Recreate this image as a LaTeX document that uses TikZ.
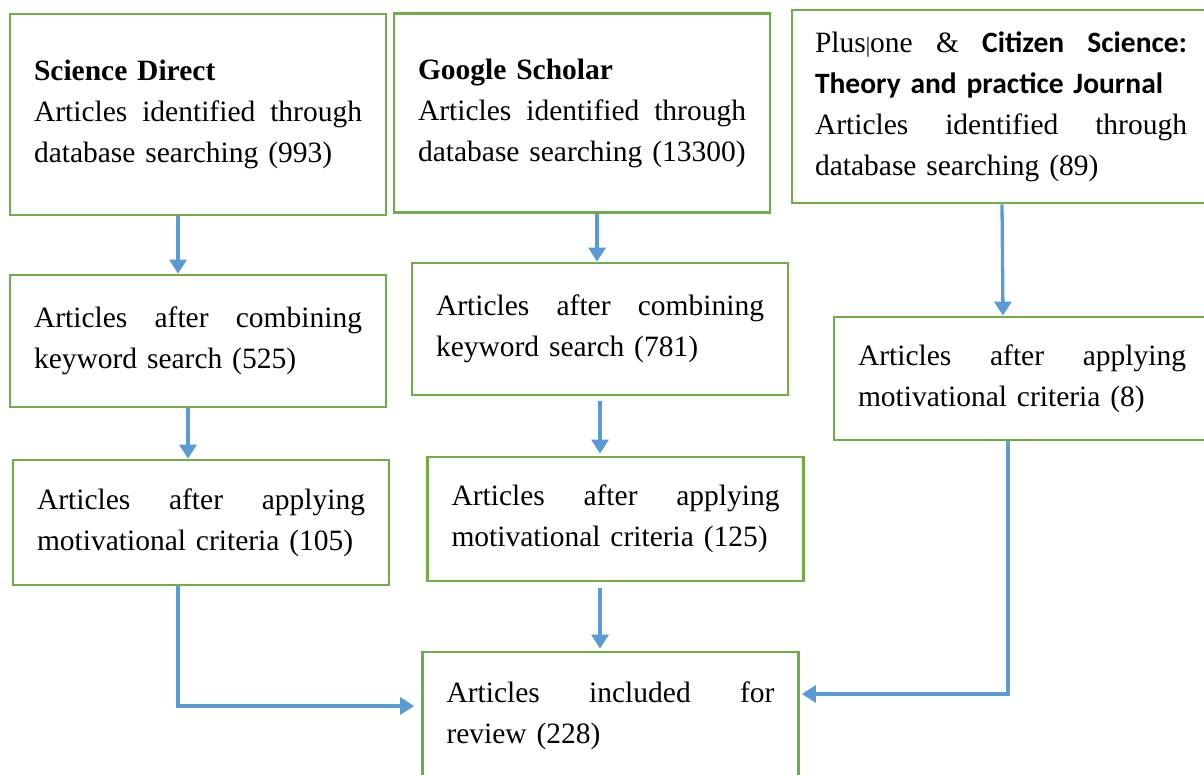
\documentclass[tikz,border=0pt]{standalone}
\usepackage{fontspec}
\setmainfont{Liberation Serif}
\newfontfamily\calfont{Carlito}
\usetikzlibrary{arrows.meta}
\definecolor{boxgreen}{RGB}{112,173,71}
\definecolor{arrblue}{RGB}{91,155,213}
\newcommand\J[2][328pt]{\leavevmode\hbox to #1{#2}}
\tikzset{
  box/.style={draw=boxgreen, line width=2.8pt, align=left, inner xsep=24pt, inner ysep=0pt,
    text width=328pt, font=\fontsize{29.5}{41}\selectfont},
  arr/.style={draw=arrblue, line width=3.3pt, -{Triangle[length=14pt,width=17pt]}}
}
\begin{document}
\begin{tikzpicture}[x=1pt,y=-1pt]
\useasboundingbox (0,0) rectangle (1204,774);
\clip (0,0) rectangle (1204,774);
\node[box, minimum height=201pt] (B1) at (198,114.5)
  {\textbf{Science Direct}\\\J{Articles\hfill identified\hfill through}\\database searching (993)};
\node[box, minimum height=199pt] (B2) at (582,113)
  {\textbf{Google Scholar}\\\J{Articles\hfill identified\hfill through}\\\mbox{database searching (13300)}};
\node[box, minimum height=193pt, inner xsep=23pt, text width=372pt] (B3) at (1001,106.5)
  {\J[372pt]{Plus{\fontsize{22}{22}\selectfont|}one\hfill\&\hfill{\calfont\bfseries Citizen\hfill Science:}}\\{\calfont\bfseries Theory and practice Journal}\\\J[372pt]{Articles\hfill identified\hfill through}\\database searching (89)};
\node[box, minimum height=132pt] (B4) at (198,341)
  {\J{Articles\hfill after\hfill combining}\\keyword search (525)};
\node[box, minimum height=132pt] (B5) at (600,329)
  {\J{Articles\hfill after\hfill combining}\\keyword search (781)};
\node[box, minimum height=123pt] (B6) at (1022,378.5)
  {\J{Articles\hfill after\hfill applying}\\motivational criteria (8)};
\node[box, minimum height=125pt] (B7) at (201,522.5)
  {\J{Articles\hfill after\hfill applying}\\motivational criteria (105)};
\node[box, minimum height=124pt] (B8) at (615.5,519)
  {\J{Articles\hfill after\hfill applying}\\motivational criteria (125)};
\node[box, minimum height=128pt] (B9) at (610.5,716)
  {\J{Articles\hfill included\hfill for}\\review (228)};
\draw[arr] ([xshift=-20pt]B1.south) -- ([xshift=-20pt]B4.north);
\draw[arr] ([xshift=-10pt]B4.south) -- ([xshift=-13pt]B7.north);
\draw[arr] ([xshift=15pt]B2.south) -- ([xshift=-3pt]B5.north);
\draw[arr, shorten <=5pt, shorten >=2pt] ([xshift=0pt]B5.south) -- ([xshift=-15.5pt]B8.north);
\draw[arr, shorten <=6pt, shorten >=2pt] ([xshift=-15.5pt]B8.south) -- ([xshift=-10.5pt]B9.north);
\draw[arr] ([xshift=1pt]B3.south) -- ([xshift=-19pt]B6.north);
\draw[arr, shorten >=7pt] ([xshift=-23pt]B7.south) |- ([yshift=10pt]B9.west);
\draw[arr, shorten >=2pt] ([xshift=-14pt]B6.south) |- ([yshift=22pt]B9.east);
\end{tikzpicture}
\end{document}
